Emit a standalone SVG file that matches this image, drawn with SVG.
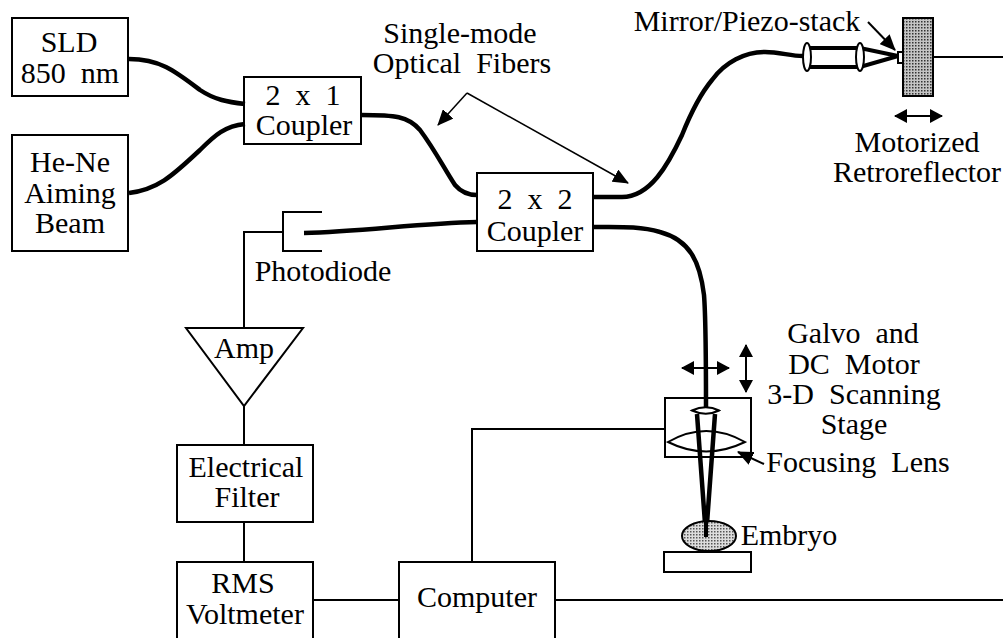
<svg xmlns="http://www.w3.org/2000/svg" width="1003" height="638" viewBox="0 0 1003 638">
<style>
text{font-family:"Liberation Serif","Times New Roman",serif;font-size:30px;fill:#000;text-anchor:middle}
.b{fill:#fff;stroke:#000;stroke-width:2}
.l{fill:none;stroke:#000;stroke-width:2}
.f{fill:none;stroke:#000;stroke-width:4.500}
.t{fill:none;stroke:#000;stroke-width:1.500}
</style>
<defs>
<pattern id="d" width="3" height="3" patternUnits="userSpaceOnUse"><rect width="3" height="3" fill="#c4c4c4"/><rect width="1.500" height="1.500" fill="#333"/></pattern>
<pattern id="e" width="3" height="3" patternUnits="userSpaceOnUse"><rect width="3" height="3" fill="#ddd"/><rect width="1.500" height="1.500" fill="#555"/></pattern>
<marker id="a" markerWidth="13" markerHeight="14" refX="12" refY="7" orient="auto-start-reverse" markerUnits="userSpaceOnUse"><path d="M0 0L13 7L0 14Z"/></marker>
<marker id="s" markerWidth="16" markerHeight="14" refX="15" refY="7" orient="auto-start-reverse" markerUnits="userSpaceOnUse"><path d="M0 0L16 7L0 14Z"/></marker>
</defs>
<rect width="1003" height="638" fill="#fff"/>
<g id="sld"><rect class="b" x="12" y="18" width="116" height="78"/><text x="69" y="52">SLD</text><text x="70" y="83" xml:space="preserve">850  nm</text></g>
<g id="hene"><rect class="b" x="12" y="135" width="116" height="116"/><text x="70" y="172">He-Ne</text><text x="70" y="203">Aiming</text><text x="70" y="233">Beam</text></g>
<g id="coupler1"><rect class="b" x="244" y="77" width="117" height="67"/><text x="303" y="105" xml:space="preserve">2  x  1</text><text x="304" y="135">Coupler</text></g>
<g id="coupler2"><rect class="b" x="477" y="173" width="116" height="78"/><text x="535" y="209" xml:space="preserve">2  x  2</text><text x="535" y="241">Coupler</text></g>
<g id="fibers-label"><text x="460" y="43">Single-mode</text><text x="462" y="73" xml:space="preserve">Optical  Fibers</text></g>
<g id="mirror-label"><text x="747" y="31">Mirror/Piezo-stack</text></g>
<g id="retroreflector">
<rect x="903" y="18" width="30" height="78" fill="url(#d)" stroke="#000" stroke-width="2"/>
<rect class="b" x="898" y="52" width="5" height="11" stroke-width="1.500"/>
<path fill="none" stroke="#000" stroke-width="4" d="M808 48H860L898 56L860 67H808"/>
<ellipse class="b" cx="807" cy="57" rx="4" ry="14"/>
<ellipse class="b" cx="860" cy="57" rx="4" ry="14"/>
<text x="917" y="152">Motorized</text><text x="917" y="182">Retroreflector</text>
</g>
<g id="photodiode"><path class="l" d="M322 212H283V251H322"/><text x="323" y="281">Photodiode</text></g>
<g id="amp"><path class="b" d="M186 328H303L244 406Z"/><text x="244" y="358">Amp</text></g>
<g id="filter"><rect class="b" x="177" y="445" width="136" height="77"/><text x="246" y="477">Electrical</text><text x="247" y="507">Filter</text></g>
<g id="voltmeter"><rect class="b" x="177" y="562" width="136" height="78"/><text x="243" y="593">RMS</text><text x="245" y="624">Voltmeter</text></g>
<g id="computer"><rect class="b" x="399" y="562" width="156" height="78"/><text x="477" y="607">Computer</text></g>
<g id="stage">
<rect class="b" x="665" y="398" width="86" height="59"/>
<path class="b" d="M692 410.500Q706 404 719 410.500Q706 417 692 410.500Z"/>
<path class="l" d="M668 442Q706 420 745 442Q706 461 668 442Z"/>
<path class="f" d="M697 414L706 537L715 414"/>
<text x="853" y="343" xml:space="preserve">Galvo  and</text><text x="854" y="374" xml:space="preserve">DC  Motor</text><text x="854" y="404" xml:space="preserve">3-D  Scanning</text><text x="854" y="434">Stage</text>
<text x="858" y="472" xml:space="preserve">Focusing  Lens</text>
</g>
<g id="embryo"><ellipse cx="709" cy="536" rx="27" ry="15" fill="url(#e)" stroke="#000" stroke-width="2"/><path stroke="#000" stroke-width="4" d="M706 510V537"/><rect class="b" x="664" y="552" width="87" height="20"/><text x="789" y="545">Embryo</text></g>
<g id="connectors">
<path class="f" d="M129 59C160 59 175 71 200 90C215 100 228 102 245 104"/>
<path class="f" d="M129 193C160 189 175 173 200 150C215 135 225 126 245 124"/>
<path class="f" d="M361 115C395 115 408 116 420 130C435 150 445 170 455 185C461 192 468 195 477 195"/>
<path class="f" d="M593 197H622C650 197 668 165 682 135C690 115 702 92 712 80C725 62 745 52 765 52C780 52 790 56 803 56"/>
<path class="f" d="M593 227C620 227 640 226 660 232C690 240 700 262 704 295C706 320 706 370 706 408"/>
<path class="f" d="M304 233C360 232 420 223 477 222"/>
<path class="l" d="M283 232H244V328"/>
<path class="l" d="M244 406V445"/>
<path class="l" d="M244 522V562"/>
<path class="l" d="M313 600H399"/>
<path class="l" d="M472 562V429H665"/>
<path class="l" d="M555 600H1003"/>
<path class="l" d="M933 57H1003"/>
<path class="t" marker-end="url(#s)" d="M467 93L438 125"/>
<path class="t" marker-end="url(#s)" d="M467 93L628 183"/>
<path class="l" marker-end="url(#s)" d="M868 22L895 50"/>
<path class="l" marker-start="url(#a)" marker-end="url(#a)" d="M895 116H942"/>
<path class="l" marker-start="url(#a)" marker-end="url(#a)" d="M682 368H729"/>
<path class="l" marker-start="url(#a)" marker-end="url(#a)" d="M746 345V392"/>
<path class="l" marker-end="url(#s)" d="M764 464L738 452"/>
</g>
</svg>
